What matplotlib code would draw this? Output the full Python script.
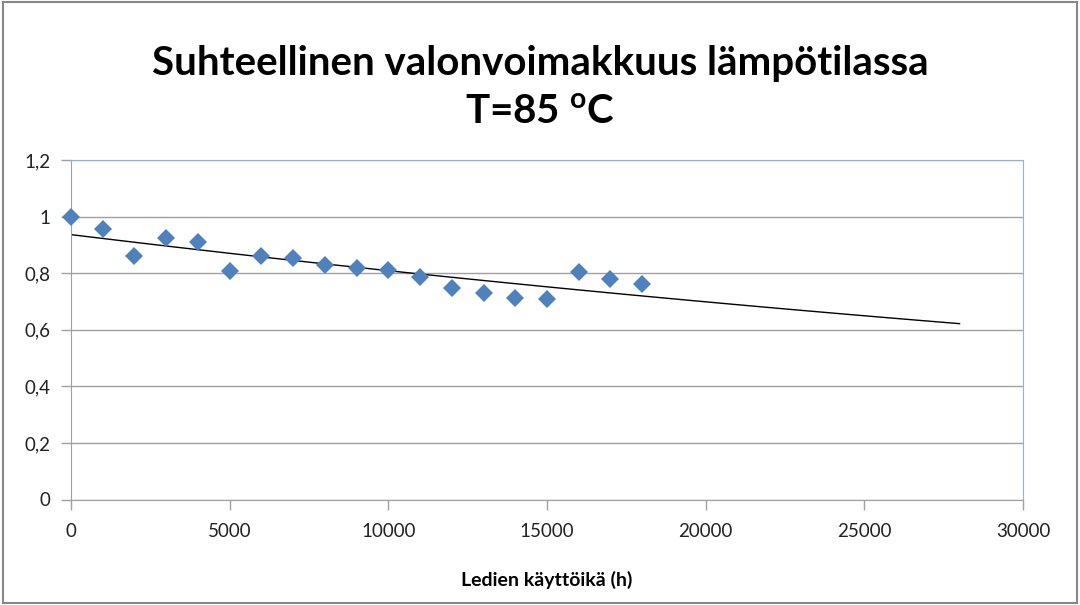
import numpy as np
import matplotlib.pyplot as plt

# Ledien käyttöikä (h) ja suhteellinen valonvoimakkuus
hours = [0, 1000, 2000, 3000, 4000, 5000, 6000, 7000, 8000, 9000,
         10000, 11000, 12000, 13000, 14000, 15000, 16000, 17000, 18000]
intensity = [1.0, 0.955, 0.86, 0.923, 0.91, 0.808, 0.86, 0.854, 0.83, 0.82,
             0.81, 0.785, 0.748, 0.73, 0.713, 0.71, 0.805, 0.78, 0.762]
trend_end = 28000

plt.rcParams['font.family'] = ['Lato', 'DejaVu Sans']

fig = plt.figure(figsize=(10.8, 6.05), dpi=100)
ax = fig.add_axes([71 / 1080, 1 - 499.5 / 605, (1023 - 71) / 1080, (499.5 - 160) / 605])

# eksponentiaalinen trendi (kuten Excelissä)
k, b = np.polyfit(hours, np.log(intensity), 1)
tx = np.linspace(0, trend_end, 50)
ax.plot(tx, np.exp(b + k * tx), color='black', lw=1, zorder=2)

ax.plot(hours, intensity, 'D', color='#4F81BD', markersize=9.5,
        markeredgewidth=0, zorder=3, clip_on=False)

ax.set_xlim(0, 30000)
ax.set_ylim(0, 1.2)
ax.set_xticks(range(0, 30001, 5000))
ax.set_yticks(np.arange(0, 1.21, 0.2))
ax.set_yticklabels(['0', '0,2', '0,4', '0,6', '0,8', '1', '1,2'])
ax.grid(axis='y', color='#A0A0A0', lw=1)
ax.set_axisbelow(True)
ax.tick_params(colors='#A0A0A0', labelcolor='#222222', labelsize=13.5,
               length=7, width=1)
ax.tick_params(axis='x', pad=10)
ax.tick_params(axis='y', pad=8)
for s in ['left', 'bottom']:
    ax.spines[s].set_color('#A0A0A0')
for s in ['top', 'right']:
    ax.spines[s].set_color('#8EB4E3')

ax.set_xlabel('Ledien käyttöikä (h)', fontsize=14, fontweight='bold', labelpad=22)
fig.text(0.5, 1 - 75 / 605, 'Suhteellinen valonvoimakkuus lämpötilassa',
         ha='center', va='baseline', fontsize=29, fontweight='bold')
fig.text(0.5, 1 - 124 / 605, 'T=85 $^\\mathregular{o}$C',
         ha='center', va='baseline', fontsize=29, fontweight='bold')

# kehys
fig.patches.append(plt.Rectangle((0.003, 0.003), 0.994, 0.994, transform=fig.transFigure,
                                 fill=False, edgecolor='#888888', lw=1.5))

fig.savefig('out.png', dpi=100)
